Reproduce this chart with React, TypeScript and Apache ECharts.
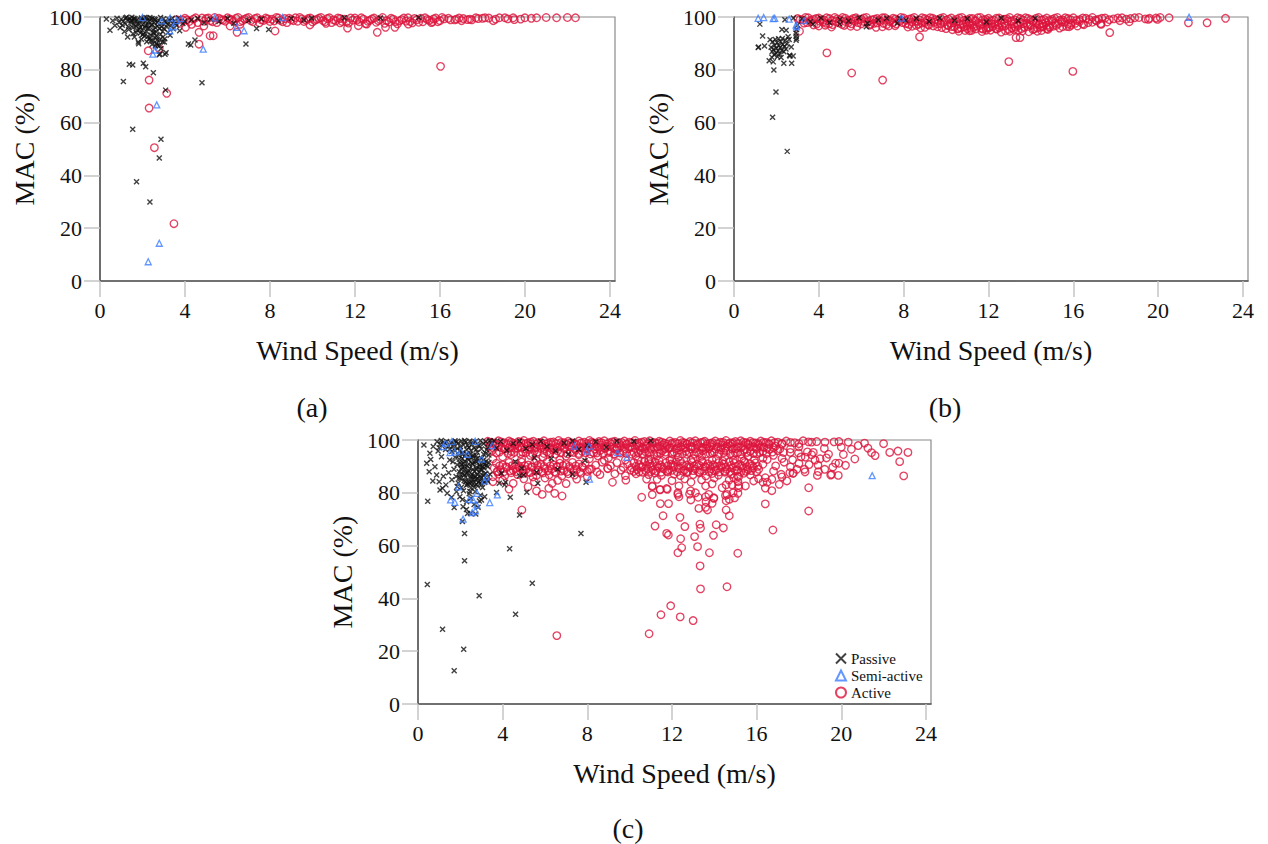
import React, { useEffect, useRef } from "react";
import * as echarts from "echarts";

const xTicks = [0, 4, 8, 12, 16, 20, 24];
const seriesNames = ["Passive", "Semi-active", "Active"];
const panelLabels = ["(a)", "(b)", "(c)"];
const xTitle = "Wind Speed (m/s)";
const yTitle = "MAC (%)";

// ---------- Panel (a) ----------
const passiveA: number[][] = [
  [0.3,99.2],[0.47,95.0],[0.6,98.6],[0.7,96.8],[0.8,99.5],[0.9,97.9],[0.95,95.9],[1.0,99.1],[1.1,75.6],[1.1,98.4],[1.15,94.5],[1.2,99.6],[1.2,97.3],
  [1.3,98.9],[1.3,92.4],[1.35,96.2],[1.38,82.1],[1.4,99.3],[1.45,97.8],[1.5,98.7],[1.5,99.9],[1.54,81.8],[1.54,57.5],[1.55,95.9],[1.6,99.5],
  [1.6,97.1],[1.62,92.4],[1.65,98.3],[1.7,96.6],[1.7,94.1],[1.72,37.6],[1.75,99.0],[1.8,97.6],[1.8,90.5],[1.82,89.9],[1.85,95.3],[1.9,98.8],
  [1.9,93.9],[1.9,96.0],[1.95,99.6],[1.95,91.6],[2.0,97.2],[2.0,95.0],[2.04,82.5],[2.05,99.1],[2.05,93.6],[2.1,92.8],[2.1,96.3],[2.1,99.8],
  [2.15,81.2],[2.15,98.4],[2.2,94.4],[2.2,99.7],[2.25,97.0],[2.25,95.6],[2.3,91.6],[2.3,95.8],[2.35,29.9],[2.35,98.9],[2.35,92.0],[2.35,99.8],
  [2.4,93.2],[2.4,96.9],[2.45,99.4],[2.45,89.6],[2.5,90.9],[2.5,95.1],[2.51,78.9],[2.55,97.8],[2.55,93.9],[2.6,92.1],[2.6,99.0],[2.6,96.0],
  [2.65,94.3],[2.67,90.0],[2.7,96.5],[2.7,91.4],[2.71,89.3],[2.75,98.6],[2.79,46.6],[2.79,85.7],[2.8,89.2],[2.82,86.0],[2.85,93.5],[2.85,99.8],
  [2.87,53.7],[2.87,88.0],[2.9,97.4],[2.95,90.6],[2.95,94.5],[3.0,95.6],[3.0,99.3],[3.03,90.5],[3.05,91.8],[3.06,85.9],[3.09,72.3],[3.1,97.9],
  [3.11,86.5],[3.15,96.2],[3.2,94.1],[3.25,99.0],[3.3,93.1],[3.35,96.9],[3.45,95.5],[3.5,98.4],[3.6,96.8],[3.7,99.6],[3.75,94.8],[3.9,97.5],
  [4.0,98.4],[4.16,89.8],[4.27,89.4],[4.3,98.9],[4.47,91.3],[4.6,99.4],[4.8,75.1],[4.9,97.8],[5.2,99.1],[5.6,98.3],[6.0,99.5],[6.3,97.6],
  [6.87,89.8],[7.0,98.7],[7.37,95.6],[7.6,99.2],[7.94,95.3],[8.4,98.6],[9.0,99.4],[9.6,98.9],[9.96,99.5],[11.5,99.7],[13.2,99.6],[15.0,99.8],
  [1.25,99.9],[1.45,98.6],[1.65,99.2],[1.85,97.3],[2.0,98.9],[2.15,96.9],[2.3,98.3],[2.45,97.1],[2.55,99.2],[2.7,97.9],[2.8,95.6],[2.9,96.3],
  [3.05,98.2],[3.2,97.3],[3.4,99.5],[1.75,95.1],[2.0,93.3],[2.25,92.6],[2.5,94.0],[2.65,92.8],[2.8,91.4],[2.2,90.6],[2.4,91.1],[2.6,89.0],
  [2.95,92.3],[1.55,93.7],[1.35,95.3],[1.05,96.9],[3.3,98.6],[3.55,97.5]
];
const semiA: number[][] = [
  [2.27,7.3],[2.79,14.3],[2.67,66.7],[2.49,85.9],[2.6,87.5],[4.86,87.8],[3.29,94.8],[3.45,96.3],[3.6,98.6],[3.8,99.4],
  [6.43,96.1],[6.78,94.8],[2.0,99.8],[2.9,98.5],[3.3,99.6],[5.4,99.7],[8.6,99.8]
];
const activeA: number[][] = [
  [3.48,21.7],[2.56,50.5],[2.31,65.5],[2.31,76.1],[3.14,71.1],[2.27,87.2],[2.79,88.0],[4.66,89.7],[5.18,92.9],[5.33,92.9],[6.45,94.2],
  [8.24,94.7],[4.03,96.1],[4.31,97.2],[4.66,94.2],[4.89,96.6],[6.12,96.6],[6.59,97.2],[9.88,97.0],[16.03,81.3],[10.64,97.6],[11.3,97.8],
  [11.65,95.8],[12.16,96.7],[12.55,97.3],[13.05,94.2],[13.44,96.1],[13.88,96.1],[14.51,97.3],[15.65,98.2],[16.78,99.2],[17.02,98.6],
  [17.41,99.2],[17.69,99.7],[18.12,99.7],[18.51,98.6],[18.62,99.2],[19.06,99.7],[19.45,99.7],[20.0,99.7],[20.55,99.7],[21.49,99.7],[22.38,99.7],
  [3.6,99.0],[3.8,97.6],[4.0,99.5],[4.2,98.3],[4.4,99.2],[4.6,97.9],[4.8,99.6],[3.9,98.8],
  [5.0,99.4],[5.2,98.6],[5.4,99.8],[5.5,97.9],[5.7,99.1],[5.9,98.4],[6.0,99.7],[6.2,98.9],[6.4,99.5],[6.6,98.2],[6.8,99.2],[7.0,99.8],
  [7.1,98.6],[7.3,99.4],[7.5,97.8],[7.6,98.9],[7.8,99.6],[8.0,98.3],[8.1,99.2],[8.3,99.8],[8.5,98.7],[8.7,99.4],[8.8,97.9],[9.0,99.0],
  [9.2,99.7],[9.3,98.4],[9.5,99.3],[9.7,98.8],[9.9,99.6],[10.0,98.1],[10.2,99.1],[10.4,99.8],[10.5,98.6],[10.7,99.4],[10.9,97.9],[11.0,98.9],
  [11.2,99.6],[11.4,98.3],[11.5,99.2],[11.7,97.7],[11.9,98.8],[12.0,99.6],[12.2,98.2],[12.4,99.2],[12.5,97.5],[12.7,98.7],[12.9,99.6],[13.0,98.0],
  [13.2,99.0],[13.4,97.6],[13.5,98.6],[13.7,99.5],[13.9,98.2],[14.0,97.4],[14.2,99.0],[14.4,98.4],[14.5,99.7],[14.7,97.8],[14.9,98.9],[15.1,99.5],
  [15.2,98.2],[15.4,99.1],[15.6,97.9],[15.8,99.6],[16.0,98.6],[16.2,99.3],[16.5,98.9],[16.9,99.6],[17.3,99.0],[17.8,99.4],[18.3,99.6],[19.2,99.3],
  [19.8,99.2],[20.3,99.5],[21.0,99.8],[22.0,99.8],
  [4.1,98.9],[4.5,99.7],[4.9,98.4],[5.1,99.6],[5.3,98.2],[5.6,99.5],[5.8,98.8],[6.1,99.3],[6.3,98.3],[6.5,99.8],[6.7,98.6],[6.9,99.5],
  [7.2,98.2],[7.4,99.7],[7.7,98.7],[7.9,99.3],[8.2,98.5],[8.4,99.6],[8.6,98.2],[8.9,99.5],[9.1,98.6],[9.4,99.8],[9.6,98.3],[9.8,99.4],
  [10.1,98.7],[10.3,99.5],[10.6,98.2],[10.8,99.7],[11.1,98.5],[11.3,99.4],[11.6,98.1],[11.8,99.6],[12.1,98.8],[12.3,99.7],[12.6,98.4],[12.8,99.3],
  [13.1,98.6],[13.3,99.8],[13.6,98.1],[13.8,99.2],[14.1,98.5],[14.3,99.6],[14.6,98.3],[14.8,99.4],[15.0,98.0],[15.3,99.7],[15.5,98.7],[15.7,99.3],
  [15.9,98.2],[16.1,99.8],[16.4,99.5],[16.7,98.9],[17.1,99.4],[17.5,98.9],[18.0,99.5],[18.8,99.7],[19.5,99.0]
];

// ---------- Panel (b) ----------
const passiveB: number[][] = [
  [1.14,88.4],[1.44,89.0],[1.35,92.8],[1.22,97.3],[1.16,88.6],[1.66,83.4],[1.85,83.0],[1.88,79.9],[1.98,71.6],[1.82,62.0],[2.51,49.1],
  [2.35,82.5],[2.72,82.5],[2.64,85.2],[2.79,85.2],[2.62,85.5],[2.95,91.9],[2.92,93.8],[2.95,95.3],[2.26,95.3],[2.46,95.0],[2.93,92.8],[2.93,91.2],
  [1.75,88.5],[1.8,86.9],[1.82,90.6],[1.86,87.7],[1.9,85.6],[1.92,89.3],[1.95,91.5],[1.98,86.4],[2.0,88.2],[2.03,90.2],[2.05,84.9],[2.08,87.1],
  [2.1,91.8],[2.12,89.1],[2.15,86.0],[2.18,88.4],[2.2,90.6],[2.22,84.7],[2.25,87.3],[2.28,91.9],[2.3,89.6],[2.35,86.8],[2.38,88.9],[2.42,91.2],
  [2.45,87.9],[2.5,89.8],[1.7,91.4],[1.78,84.8],[2.6,91.5],[2.7,88.6],[2.55,92.5],
  [3.2,99.3],[3.6,98.2],[3.73,97.3],[4.1,99.6],[4.5,97.9],[4.99,97.3],[5.0,99.1],[5.4,98.5],[5.9,99.7],[6.24,96.3],[6.3,97.6],[6.8,98.9],
  [7.2,99.5],[7.7,97.7],[7.81,99.5],[8.1,98.8],[8.6,99.4],[9.2,98.3],[9.7,99.6],[10.4,98.7],[11.0,99.3],[11.9,98.1],[12.6,99.6],[13.4,98.6],
  [14.2,99.5],[2.8,99.6],[2.4,99.0],[3.0,97.0]
];
const semiB: number[][] = [
  [1.14,99.5],[1.92,99.5],[1.85,99.4],[2.93,96.9],[2.95,96.3],[21.46,99.9],[2.6,99.2],[3.3,98.6],[7.9,99.6],[1.4,99.8]
];
const activeB: number[][] = [
  [4.38,86.4],[5.55,78.8],[7.01,76.1],[8.75,92.5],[3.09,94.6],[12.96,83.1],[15.98,79.4],[13.3,92.2],[13.49,92.2],[17.72,94.1],[17.31,97.2],
  [18.64,98.2],[21.43,97.8],[22.31,97.8],[23.18,99.5],[20.52,99.7],[19.54,99.1],[19.97,99.1],[15.81,96.3],[16.44,97.4],[14.53,96.3],
  [14.87,96.1],[11.11,94.8],[10.56,95.7],[11.66,95.7],
  [3.0,99.4],[3.25,98.9],[3.5,99.7],[3.75,99.1],[4.0,99.6],[4.25,98.8],[4.5,99.4],[4.75,99.8],[5.0,99.0],[5.25,99.5],[5.5,98.9],[5.75,99.7],
  [6.0,99.2],[6.25,99.8],[6.5,98.9],[6.75,99.4],[7.0,99.7],[7.25,99.0],[7.5,99.5],[7.75,98.8],[8.0,99.6],[8.25,99.2],[8.5,99.8],[8.75,98.9],
  [9.0,99.4],[9.25,99.7],[9.5,99.0],[9.75,99.5],[10.0,98.8],[10.25,99.6],[10.5,99.1],[10.75,99.8],[11.0,98.9],[11.25,99.4],[11.5,99.7],
  [11.75,99.0],[12.0,99.5],[12.25,98.8],[12.5,99.6],[12.75,99.2],[13.0,99.8],[13.25,98.9],[13.5,99.4],[13.75,99.7],[14.0,99.0],[14.25,99.5],
  [14.5,98.9],[14.75,99.6],[15.0,99.1],[15.25,99.8],[15.5,98.9],[15.75,99.4],[16.0,99.7],[16.3,99.0],[16.6,99.5],[16.9,99.8],[17.2,99.2],
  [17.5,99.6],[17.9,99.3],[18.3,99.7],[18.7,99.4],[19.1,99.8],[19.6,99.5],[20.1,99.8],
  [3.3,97.7],[3.6,98.2],[3.9,97.3],[4.2,98.0],[4.5,97.5],[4.8,98.3],[5.1,97.2],[5.4,97.9],[5.7,98.4],[6.0,97.4],[6.3,98.1],[6.6,97.6],
  [6.9,98.3],[7.2,97.1],[7.5,97.9],[7.8,98.4],[8.1,97.5],[8.4,98.0],[8.7,97.3],[9.0,97.9],[9.3,98.3],[9.6,97.4],[9.9,98.0],[10.2,97.6],
  [10.5,98.3],[10.8,97.2],[11.1,97.9],[11.4,98.4],[11.7,97.5],[12.0,98.1],[12.3,97.3],[12.6,97.9],[12.9,98.4],[13.2,97.4],[13.5,98.0],
  [13.8,97.6],[14.1,98.3],[14.4,97.2],[14.7,97.9],[15.0,98.4],[15.3,97.5],[15.6,98.0],[15.9,97.7],[16.3,98.3],[16.7,97.9],[17.1,98.5],
  [17.6,98.1],[18.2,98.6],
  [4.0,96.6],[4.6,96.2],[5.2,96.8],[5.8,96.4],[6.4,96.9],[7.0,96.3],[7.6,96.7],[8.2,96.2],[8.6,96.8],[9.0,96.1],[9.4,96.6],[9.8,96.0],
  [10.1,96.7],[10.4,96.2],[10.7,95.9],[11.0,96.6],[11.3,96.1],[11.6,96.8],[11.9,95.8],[12.2,96.4],[12.5,96.0],[12.8,96.7],[13.1,95.9],
  [13.4,96.5],[13.7,96.1],[14.0,96.8],[14.3,95.9],[14.6,96.5],[14.9,96.2],[15.2,96.8],[15.5,96.3],[15.9,96.9],
  [10.3,95.2],[10.9,94.9],[11.4,95.5],[11.9,95.0],[12.4,95.4],[12.8,94.8],[13.2,95.3],[13.6,94.7],[14.1,95.2],[14.5,94.9],[13.9,94.4],[12.6,94.3]
];
const activeBDense: number[][] = [
  [3.12,99.1],[3.37,99.8],[3.62,98.7],[3.87,99.4],[4.12,98.9],[4.37,99.7],[4.62,98.6],[4.87,99.3],[5.12,99.8],[5.37,98.7],[5.62,99.4],[5.87,98.9],
  [6.12,99.6],[6.37,98.5],[6.62,99.2],[6.87,98.8],[7.12,99.7],[7.37,98.6],[7.62,99.3],[7.87,99.8],[8.12,98.7],[8.37,99.4],[8.62,98.5],[8.87,99.7],
  [9.12,98.9],[9.37,99.5],[9.62,98.6],[9.87,99.8],[10.12,99.2],[10.37,98.5],[10.62,99.6],[10.87,98.8],[11.12,99.4],[11.37,98.6],[11.62,99.8],
  [11.87,99.1],[12.12,98.6],[12.37,99.5],[12.62,98.7],[12.87,99.3],[13.12,98.5],[13.37,99.7],[13.62,98.9],[13.87,99.4],[14.12,98.6],[14.37,99.8],
  [14.62,99.1],[14.87,98.6],[15.12,99.5],[15.37,98.8],[15.62,99.7],[15.87,99.0],[16.15,98.7],[16.45,99.6],[16.75,99.1],[17.05,98.8],[17.35,99.5],
  [17.7,99.0],[18.1,99.6],[18.5,99.2],[18.9,99.7],[19.4,99.3],[19.9,99.6],
  [3.45,97.9],[3.75,97.0],[4.05,98.4],[4.35,97.6],[4.65,97.1],[4.95,97.8],[5.25,98.3],[5.55,97.4],[5.85,97.9],[6.15,98.2],[6.45,97.3],[6.75,97.8],
  [7.05,97.6],[7.35,98.2],[7.65,97.4],[7.95,97.9],[8.25,97.2],[8.55,98.3],[8.85,97.7],[9.15,97.1],[9.45,98.0],[9.75,97.5],[10.05,97.0],[10.35,97.8],
  [10.65,97.3],[10.95,98.1],[11.25,97.0],[11.55,97.6],[11.85,98.2],[12.15,97.4],[12.45,97.0],[12.75,97.7],[13.05,98.3],[13.35,97.1],[13.65,97.5],
  [13.95,97.0],[14.25,97.8],[14.55,97.4],[14.85,96.9],[15.15,97.7],[15.45,98.2],[15.75,97.3],[16.1,97.6],[16.5,97.1],[16.9,98.0],[17.3,97.5],
  [8.4,96.5],[8.8,95.9],[9.2,96.9],[9.6,96.3],[10.0,95.6],[10.25,96.4],[10.55,95.5],[10.85,96.3],[11.15,95.7],[11.45,96.5],[11.75,95.4],[12.05,96.1],
  [12.35,95.6],[12.65,96.4],[12.95,95.3],[13.25,96.2],[13.55,95.6],[13.85,96.4],[14.15,95.5],[14.45,96.1],[14.75,95.6],[15.05,96.5],[15.35,95.8],
  [15.7,96.4],[5.5,96.5],[6.7,96.1],[7.3,96.6],[4.3,96.9],[16.2,96.6],
  [10.6,94.6],[11.2,94.9],[11.7,94.5],[12.1,95.0],[13.0,94.6],[13.4,95.0],[14.3,94.6],[14.8,95.3],[11.0,95.6],[12.0,96.0]
];

// ---------- Panel (c) ----------
const passiveC: number[][] = [
  [0.46,76.8],[0.44,45.3],[1.16,28.3],[1.71,12.6],[2.16,20.7],[2.2,54.3],[2.2,64.6],[2.89,41.0],[4.33,58.8],[4.61,34.0],[5.4,45.7],[7.7,64.6],
  [4.8,71.6],[4.36,78.3],[5.14,80.2],[2.1,69.1],[1.71,74.4],[2.34,72.2],[7.89,92.2],[7.94,84.0],[4.09,83.0],[3.84,83.6],[3.71,80.1],
  [0.28,98.1],[0.41,91.2],[0.53,88.0],[0.8,89.9],[0.88,86.7],[1.0,84.2],[1.04,81.1],[1.16,81.7],[1.32,83.0],[1.38,79.8],[1.59,78.3],[1.82,80.4],
  [1.98,78.5],[2.13,74.7],[2.29,73.7],[2.48,72.2],[2.73,72.0],[2.84,74.5],[3.0,77.3],[3.15,78.5],[1.11,93.7],[0.56,95.0],[0.72,97.5],[1.66,97.5],
  [0.6,92.6],[0.95,95.8],[1.25,90.1],[1.45,87.6],[1.5,92.4],[1.2,86.3],[0.7,84.5],[1.6,84.9],
  [0.9,99.3],[1.0,97.1],[1.1,99.8],[1.2,98.2],[1.3,96.4],[1.35,99.4],[1.45,97.7],[1.55,99.0],[1.6,95.6],[1.7,98.5],[1.75,99.7],[1.85,96.8],
  [1.9,98.9],[2.0,97.4],[2.05,99.5],[2.1,95.2],[2.15,98.1],[2.25,99.2],[2.3,96.3],[2.35,97.9],[2.45,99.6],[2.5,95.9],[2.55,98.4],[2.65,97.0],
  [2.7,99.3],[2.8,95.4],[2.85,98.0],[2.95,99.7],[3.0,96.6],[3.1,98.6],[3.2,99.4],[3.3,97.2],[3.45,98.9],[3.6,99.6],[3.1,94.6],[2.6,94.2],[2.2,93.8],
  [1.65,91.8],[1.7,88.9],[1.75,93.5],[1.8,86.2],[1.85,90.6],[1.9,83.7],[1.92,94.1],[1.95,88.0],[2.0,91.3],[2.02,85.4],[2.05,82.1],[2.08,89.6],
  [2.1,93.0],[2.12,87.1],[2.15,80.8],[2.18,84.6],[2.2,91.9],[2.22,88.8],[2.25,86.0],[2.28,82.9],[2.3,94.6],[2.32,90.2],[2.35,87.7],[2.38,84.1],
  [2.4,92.5],[2.42,79.6],[2.45,89.3],[2.48,85.5],[2.5,81.8],[2.52,93.3],[2.55,87.0],[2.58,90.8],[2.6,83.3],[2.62,86.4],[2.65,91.6],[2.68,88.2],
  [2.7,80.4],[2.72,84.9],[2.75,94.0],[2.78,89.7],[2.8,86.8],[2.82,82.6],[2.85,92.2],[2.88,87.9],[2.9,84.3],[2.92,90.1],[2.95,79.1],[2.98,85.8],
  [3.0,93.0],[3.02,88.6],[3.05,82.0],[3.08,91.2],[3.1,86.5],[3.12,89.4],[3.15,83.9],[3.2,87.4],[3.22,92.0],[3.25,85.1],[3.3,89.9],[3.35,94.3],
  [3.4,87.0],[2.1,77.5],[2.3,76.6],[2.5,77.9],[2.65,75.6],[2.9,76.9],[1.85,82.4],[2.0,86.9],[2.4,88.3],[2.6,85.0],[2.2,89.9],[2.75,91.9],
  [2.55,84.0],[2.95,88.8],[3.15,90.7],[2.35,83.2],[2.82,85.5],[2.05,90.7],[1.95,85.6],[3.05,84.6],
  [3.7,97.0],[3.9,99.4],[4.2,96.1],[4.5,98.7],[4.8,99.6],[5.1,96.8],[5.4,98.3],[5.8,99.5],[6.1,97.5],[6.5,95.9],[6.9,98.9],[7.3,99.6],
  [7.6,96.5],[8.0,98.0],[8.4,99.3],[8.9,97.3],[9.4,99.6],[5.5,93.3],[6.3,92.9],[7.1,94.6],[4.6,91.8],[4.9,89.3],[5.6,87.8],[6.6,88.9],
  [7.3,87.0],[10.2,99.5],[11.0,99.7],[3.94,87.4],[4.14,84.0],[4.8,86.5],[5.66,83.6],[5.0,86.7],
  [1.95,92.7],[2.05,88.9],[2.15,91.1],[2.25,84.3],[2.3,87.4],[2.4,90.9],[2.45,83.6],[2.5,86.3],[2.55,91.2],[2.6,88.8],[2.65,82.1],[2.7,86.1],
  [2.75,89.0],[2.8,93.1],[2.85,84.0],[2.9,90.6],[2.95,86.4],[3.0,83.1],[3.05,89.9],[3.1,92.4],[3.15,87.0],[3.25,90.4],[3.3,84.4],[3.35,91.5],
  [2.2,86.8],[2.35,92.9],[2.45,80.5],[2.6,93.6],[2.75,83.2],[3.2,94.9],[1.25,99.0],[1.5,96.6],[1.8,99.2],[2.0,96.0],[2.2,99.8],[2.4,97.2],
  [2.6,99.1],[2.75,96.4],[2.9,97.8],[3.25,96.3],[3.4,99.8],[1.05,98.4],[2.45,94.7],[2.1,94.5],[1.75,95.9]
];
const semiC: number[][] = [
  [2.13,70.0],[1.54,77.3],[1.74,76.4],[2.42,77.5],[2.6,77.3],[2.56,72.5],[2.71,73.2],[3.39,76.3],[3.75,79.2],[3.23,85.9],[2.79,79.8],
  [1.51,95.2],[2.78,75.4],[1.91,82.3],[3.15,84.5],[1.74,95.5],[2.02,95.8],[2.34,94.6],[7.39,97.7],[7.98,95.8],[8.1,85.2],[8.09,97.7],
  [9.43,95.2],[9.87,93.4],[21.46,86.5],[1.3,98.8],[1.6,99.4],[2.7,99.5],[3.5,97.9],[3.0,92.8],[1.2,97.5]
];
const activeC: number[][] = [
  [10.92,26.6],[11.48,33.8],[11.94,37.2],[12.39,33.0],[13.0,31.6],[13.35,43.6],[14.6,44.4],[13.33,52.3],[15.11,57.1],[13.77,57.3],[12.28,57.3],
  [12.46,59.2],[13.21,59.6],[12.41,62.6],[13.07,63.4],[13.96,63.9],[11.75,64.6],[11.83,64.0],[11.2,67.4],[12.61,67.2],[13.32,68.1],[13.35,66.6],
  [14.09,67.9],[14.43,66.7],[16.77,65.9],[18.46,73.1],[16.41,75.8],[18.46,81.9],[11.58,71.3],[12.38,70.7],[11.45,75.9],[11.84,75.9],[13.27,74.1],
  [13.59,74.5],[13.68,73.5],[14.56,73.5],[14.71,71.3],[10.57,78.3],[11.07,79.3],[11.07,82.3],[11.44,81.1],[11.78,81.3],[12.28,80.0],[12.33,78.5],
  [12.89,77.3],[12.83,79.5],[13.24,78.3],[13.59,78.5],[13.61,76.6],[13.98,77.9],[13.9,76.0],[14.53,79.0],[14.56,77.0],[14.71,77.5],[14.96,78.1],
  [15.12,79.8],[15.15,81.9],[15.12,84.2],[14.92,85.7],[15.15,86.1],[14.56,83.0],[14.84,83.0],[16.72,80.8],[16.41,81.8],[16.3,84.0],[16.5,84.0],
  [17.07,83.2],[17.57,87.6],[17.74,87.4],[17.9,88.9],[18.26,88.9],[18.48,90.7],[18.76,92.4],[18.92,88.0],[19.22,88.9],[19.5,86.7],[19.73,91.2],
  [19.89,91.2],[20.64,92.8],[20.48,96.5],[21.26,96.9],[21.43,95.2],[22.29,95.3],[22.68,95.8],[23.15,95.3],[22.76,91.8],[22.95,86.4],[20.33,99.2],
  [19.89,99.4],[19.66,99.3],[19.23,99.2],[18.84,99.4],[18.45,99.3],[17.27,95.3],[17.59,95.3],[17.98,95.1],[18.4,95.5],[18.68,95.3],[9.19,84.0],
  [9.82,84.8],[8.96,89.3],[9.59,88.6],[10.05,88.6],[3.54,92.9],[3.54,86.1],[3.75,87.9],[4.61,89.1],[4.93,89.1],[5.43,86.0],[5.3,87.6],
  [5.87,79.4],[6.46,79.8],[6.81,78.8],[6.18,81.7],[6.34,83.6],[4.91,73.5],[8.97,89.1],[8.46,87.9],[8.09,88.9],[6.56,25.9],[3.54,84.2],
  [11.07,82.6],[11.44,81.3],[11.75,81.6],[12.33,82.6],[12.28,79.4],[12.88,80.7],[13.11,80.0],[13.59,82.6],[13.74,79.4],[13.98,78.1],[14.37,81.9],
  [14.6,79.4],[14.89,80.0],[15.15,82.8],[15.47,82.6],[15.86,84.5],[16.09,85.4],[16.41,85.7],[16.72,85.1],[17.16,87.0],[17.43,84.5],[17.71,87.4],
  [18.29,87.9],[18.87,86.6],[19.54,87.0],[19.86,86.6],
  [3.3,99.5],[3.55,98.9],[3.8,99.7],[4.05,99.0],[4.3,99.6],[4.5,98.8],[4.75,99.4],[5.0,99.8],[5.2,98.9],[5.45,99.5],[5.7,99.1],[5.95,99.7],
  [6.15,98.7],[6.4,99.3],[6.65,99.8],[6.9,99.0],[7.1,99.5],[7.35,98.8],[7.6,99.6],[7.85,99.2],[8.1,99.8],[8.3,98.9],[8.55,99.4],[8.8,99.7],
  [9.05,99.0],[9.3,99.5],[9.5,98.8],[9.75,99.6],[10.0,99.2],[10.25,99.8],[10.45,98.9],[10.7,99.4],[10.95,99.7],[11.2,99.0],[11.4,99.5],
  [11.65,98.8],[11.9,99.6],[12.15,99.1],[12.4,99.8],[12.6,98.9],[12.85,99.4],[13.1,99.7],[13.35,99.0],[13.55,99.5],[13.8,98.8],[14.05,99.6],
  [14.3,99.2],[14.55,99.8],[14.75,98.9],[15.0,99.4],[15.25,99.7],[15.5,99.0],[15.7,99.5],[15.95,98.9],[16.2,99.6],[16.45,99.1],[16.7,99.7],
  [17.0,99.2],[17.4,99.6],[17.8,99.0],[18.2,99.7],
  [3.4,97.6],[3.7,98.2],[3.95,97.1],[4.2,98.0],[4.45,97.4],[4.65,98.3],[4.9,97.0],[5.15,97.9],[5.35,98.4],[5.6,97.3],[5.85,98.1],[6.05,97.6],
  [6.3,98.3],[6.55,97.2],[6.8,97.9],[7.0,98.4],[7.25,97.5],[7.5,98.0],[7.7,97.1],[7.95,97.8],[8.2,98.3],[8.45,97.4],[8.65,98.1],[8.9,97.6],
  [9.15,98.4],[9.4,97.2],[9.6,97.9],[9.85,98.3],[10.1,97.5],[10.35,98.0],[10.6,97.2],[10.8,97.8],[11.05,98.4],[11.3,97.4],[11.55,98.1],
  [11.75,97.6],[12.0,98.3],[12.25,97.1],[12.5,97.9],[12.7,98.4],[12.95,97.5],[13.2,98.0],[13.45,97.2],[13.65,97.8],[13.9,98.3],[14.15,97.4],
  [14.4,98.1],[14.6,97.6],[14.85,98.4],[15.1,97.3],[15.35,97.9],[15.6,98.2],[15.85,97.5],[16.1,98.0],[16.35,97.3],[16.6,98.3],[16.9,97.7],[17.2,98.4],
  [3.5,96.0],[3.85,95.4],[4.1,96.6],[4.4,95.7],[4.7,96.9],[4.95,95.3],[5.25,96.4],[5.5,95.8],[5.8,96.8],[6.1,95.5],[6.35,96.3],[6.6,95.9],
  [6.9,96.7],[7.2,95.4],[7.45,96.2],[7.75,95.7],[8.0,96.6],[8.3,95.2],[8.6,96.0],[8.85,96.8],[9.1,95.5],[9.4,96.3],[9.7,95.8],[9.95,96.7],
  [10.2,95.3],[10.5,96.1],[10.75,95.6],[11.0,96.5],[11.3,95.2],[11.55,96.0],[11.85,96.8],[12.1,95.4],[12.35,96.2],[12.65,95.7],[12.9,96.6],
  [13.2,95.3],[13.45,96.0],[13.75,96.7],[14.0,95.5],[14.3,96.3],[14.55,95.8],[14.85,96.6],[15.1,95.2],[15.4,96.1],[15.7,95.7],[16.0,96.5],
  [16.3,95.6],[16.6,96.4],[17.0,96.0],
  [4.0,93.6],[4.4,94.5],[4.9,92.8],[5.3,94.2],[5.9,93.4],[6.2,94.8],[6.7,92.6],[7.0,93.9],[7.6,94.4],[8.1,92.9],[8.5,94.0],[9.0,93.2],
  [9.3,94.6],[9.8,92.5],[10.3,93.8],[10.6,94.7],[11.0,92.8],[11.3,93.9],[11.7,94.5],[12.0,92.6],[12.3,93.5],[12.7,94.6],[13.0,92.9],[13.4,93.8],
  [13.8,94.8],[14.1,92.7],[14.5,93.6],[14.9,94.4],[15.3,92.9],[15.6,93.9],[16.0,94.7],[16.3,93.1],[16.8,94.2],[17.2,93.0],[17.7,92.5],[18.1,93.6],
  [18.6,94.4],[19.0,92.9],[19.4,94.6],[5.6,92.2],[8.8,92.3],[10.9,91.9],
  [3.7,91.2],[4.0,90.6],[4.3,91.5],[4.6,90.8],[4.9,91.6],[5.2,90.5],[5.5,91.3],[5.8,90.9],[6.1,91.7],[6.4,90.6],[6.7,91.2],[7.0,90.7],
  [7.3,91.5],[7.6,90.9],[7.9,91.3],
  [3.6,89.3],[3.9,88.7],[4.2,89.6],[4.5,88.5],[4.8,89.4],[5.1,88.8],[5.4,89.7],[5.7,88.6],[6.0,89.2],[6.3,88.9],[6.6,89.8],[6.9,88.4],
  [7.2,89.3],[7.5,88.8],[7.8,89.5],[8.2,89.0],
  [3.8,87.1],[4.1,86.5],[4.4,87.6],[4.7,86.9],[5.0,87.4],[5.6,86.6],[5.9,87.5],[6.2,86.8],[6.5,87.7],[6.8,86.4],[7.1,87.2],[7.4,86.7],[7.7,87.4],
  [4.0,84.8],[4.5,83.6],[5.0,85.3],[5.5,84.1],[6.0,85.6],[6.6,84.7],[7.0,83.5],[7.5,85.2],[8.0,86.1],[4.3,81.4],[5.2,82.3],[5.6,80.7],
  [8.4,90.5],[8.7,91.6],[9.1,90.2],[9.4,91.4],[9.7,89.6],[9.9,90.9],[8.6,86.9],[9.3,87.2],[9.8,86.5],
  [10.2,91.4],[10.45,90.7],[10.7,91.8],[10.95,91.0],[11.2,91.6],[11.45,90.6],[11.7,91.3],[11.95,90.9],[12.2,91.7],[12.45,91.1],[12.7,90.5],
  [12.95,91.5],[13.2,90.8],[13.45,91.6],[13.7,91.0],[13.95,90.6],[14.2,91.4],[14.45,90.9],[14.7,91.7],[14.95,91.2],[15.2,90.7],[15.45,91.5],
  [15.7,90.9],[15.95,91.3],[16.3,90.8],
  [10.1,89.5],[10.35,88.8],[10.6,89.7],[10.85,89.0],[11.1,88.6],[11.35,89.6],[11.6,89.1],[11.85,88.7],[12.1,89.8],[12.35,89.2],[12.6,88.6],
  [12.85,89.5],[13.1,89.0],[13.35,88.5],[13.6,89.7],[13.85,89.1],[14.1,88.7],[14.35,89.6],[14.6,88.9],[14.85,89.4],[15.1,88.6],[15.35,89.3],
  [15.6,88.8],[15.85,89.5],[16.1,88.9],
  [10.3,87.2],[10.6,87.8],[10.9,86.9],[11.2,87.5],[11.5,86.6],[11.8,87.9],[12.1,87.1],[12.4,86.5],[12.7,87.6],[13.0,86.9],[13.3,87.7],
  [13.6,86.4],[13.9,87.3],[14.2,86.7],[14.5,87.8],[14.8,87.0],[15.1,86.3],[15.4,87.4],[15.7,86.8],
  [11.3,85.1],[12.0,84.6],[12.6,85.3],[13.4,84.9],[14.0,85.6],[14.7,84.8],[12.9,84.0],[10.8,85.2],[13.9,83.4],
  [16.5,92.6],[16.9,90.2],[17.3,91.6],[17.6,89.8],[18.0,91.1],[18.3,93.5],[18.9,90.5],[19.3,93.2],[19.6,89.7],[20.1,94.5],[20.2,90.4],
  [20.8,97.9],[21.1,98.8],[22.0,98.6],[19.2,96.8],[18.0,97.4],[17.6,96.6],[20.0,97.3],[21.6,94.1],[16.8,88.2],[17.2,86.0]
];
const activeCDense: number[][] = [
  [3.42,99.1],[3.68,98.5],[3.92,99.3],[4.17,98.6],[4.4,99.2],[4.62,98.5],[4.87,99.1],[5.1,98.6],[5.32,99.2],[5.57,98.4],[5.82,99.0],[6.05,98.5],
  [6.27,99.2],[6.52,98.6],[6.77,99.1],[7.0,98.5],[7.22,99.0],[7.47,98.4],[7.72,98.9],[7.97,98.6],[8.2,99.2],[8.42,98.5],[8.67,99.0],[8.92,98.5],
  [9.17,99.3],[9.4,98.6],[9.62,99.1],[9.87,98.5],[10.12,99.0],[10.35,98.6],[10.57,99.2],[10.82,98.5],[11.07,99.0],[11.3,98.6],[11.52,99.2],
  [11.77,98.4],[12.02,98.9],[12.27,98.6],[12.5,99.1],[12.72,98.5],[12.97,99.0],[13.22,98.6],[13.45,99.2],[13.67,98.5],[13.92,99.0],[14.17,98.6],
  [14.42,99.1],[14.65,98.5],[14.87,99.0],[15.12,98.6],[15.37,99.2],[15.6,98.5],[15.82,99.0],[16.07,98.6],[16.32,99.1],[16.57,98.6],[16.85,99.0],
  [17.2,98.7],[17.6,99.1],[18.0,98.6],[18.6,99.2],
  [3.55,96.9],[3.82,97.4],[4.07,96.6],[4.32,97.2],[4.57,96.8],[4.8,97.5],[5.05,96.6],[5.3,97.2],[5.52,96.9],[5.75,97.6],[5.97,96.7],[6.22,97.1],
  [6.45,96.6],[6.7,97.4],[6.95,96.9],[7.15,97.5],[7.4,96.7],[7.62,97.2],[7.87,96.8],[8.1,97.5],[8.35,96.6],[8.57,97.2],[8.8,96.9],[9.05,97.5],
  [9.27,96.7],[9.52,97.1],[9.77,96.6],[10.02,97.4],[10.25,96.8],[10.47,97.5],[10.72,96.6],[10.95,97.2],[11.17,96.9],[11.42,97.6],[11.67,96.7],
  [11.92,97.1],[12.17,96.6],[12.42,97.4],[12.62,96.9],[12.87,97.5],[13.1,96.7],[13.35,97.2],[13.6,96.8],[13.82,97.5],[14.07,96.6],[14.32,97.1],
  [14.52,96.9],[14.77,97.6],[15.0,96.7],[15.25,97.2],[15.47,96.6],[15.72,97.4],[15.97,96.9],[16.22,97.3],[16.5,96.8],[16.8,97.2],[17.1,96.6],
  [3.7,95.1],[4.25,94.9],[4.55,95.3],[4.85,94.7],[5.1,95.2],[5.4,94.8],[5.65,95.4],[5.95,94.9],[6.25,95.2],[6.5,94.6],[6.75,95.1],[7.05,94.8],
  [7.35,95.3],[7.6,94.9],[7.9,95.2],[8.15,94.7],[8.45,95.1],[8.75,94.8],[9.0,95.3],[9.25,94.6],[9.55,95.1],[9.85,94.9],[10.1,94.6],[10.4,95.3],
  [10.65,94.8],[10.9,95.2],[11.15,94.6],[11.45,95.0],[11.7,95.4],[12.0,94.7],[12.25,95.1],[12.5,94.8],[12.8,95.3],[13.05,94.6],[13.3,95.0],
  [13.6,94.7],[13.9,95.2],[14.2,94.8],[14.45,95.2],[14.75,94.7],[15.0,95.1],[15.25,94.6],[15.55,95.3],[15.85,94.9],[16.15,95.2],[16.45,94.8],[16.75,95.4],
  [10.3,90.1],[10.55,89.9],[10.8,90.4],[11.05,90.0],[11.3,90.3],[11.55,89.8],[11.8,90.2],[12.05,90.5],[12.3,90.0],[12.55,90.3],[12.8,89.9],
  [13.05,90.2],[13.3,90.4],[13.55,89.9],[13.8,90.3],[14.05,90.0],[14.3,90.2],[14.55,89.8],[14.8,90.4],[15.05,90.0],[15.3,90.2],[15.55,89.9],
  [15.8,90.3],[16.05,90.0],
  [10.2,88.1],[10.45,87.9],[10.75,88.4],[11.0,88.0],[11.25,88.3],[11.5,87.8],[11.75,88.2],[12.0,88.5],[12.25,87.9],[12.5,88.2],[12.75,88.0],
  [13.0,88.4],[13.25,87.8],[13.5,88.2],[13.75,88.0],[14.0,88.4],[14.25,87.9],[14.5,88.2],[14.75,88.0],[15.0,88.3],[15.25,87.8],[15.5,88.1],
  [15.75,88.4],[16.0,87.9],
  [10.4,92.3],[10.9,92.6],[11.4,92.1],[11.9,92.4],[12.4,92.0],[12.9,92.3],[13.4,92.1],[13.9,92.4],[14.4,92.0],[14.9,92.3],[15.4,92.1],[15.9,92.5],
  [3.85,90.2],[4.15,89.9],[4.45,90.3],[4.75,90.0],[5.05,90.2],[5.35,89.8],[5.65,90.4],[5.95,90.0],[6.25,90.2],[6.55,89.9],[6.85,90.3],[7.15,90.0],
  [7.45,90.2],[7.75,89.9],[3.75,88.2],[4.05,87.9],[4.35,88.3],[4.65,88.0],[4.95,88.3],[5.25,87.8],[5.55,88.2],[5.85,88.0],[6.15,88.4],[6.45,87.9],
  [6.75,88.2],[7.05,88.0],[7.35,88.3],[7.65,87.9],[8.0,88.1]
];

const panels = [
  { passive: passiveA, semi: semiA, active: activeA },
  { passive: passiveB, semi: semiB, active: activeB.concat(activeBDense) },
  { passive: passiveC, semi: semiC, active: activeC.concat(activeCDense) },
];

const FONT = "'Liberation Serif', 'Times New Roman', Times, serif";
const RED = "#dc143c";
const BLUE = "#3c7dff";
const CROSS = "path://M0 0L10 10M10 0L0 10";

export default function App() {
  const ref = useRef<HTMLDivElement>(null);
  useEffect(() => {
    if (!ref.current) return;
    const chart = echarts.init(ref.current, null, { renderer: "svg" });
    const grids = [
      { left: 100, top: 17, width: 515, height: 264 },
      { left: 734, top: 17, width: 514, height: 264 },
      { left: 418, top: 440, width: 513, height: 264 },
    ];
    const captionPos = [
      [312, 407],
      [945, 407],
      [628, 828],
    ];
    const xAxes = grids.map((_, i) => ({
      type: "value",
      gridIndex: i,
      min: 0,
      max: 24.24,
      axisLine: { show: true, onZero: false, lineStyle: { color: "#555", width: 1.5 } },
      axisTick: { show: true, length: 16, lineStyle: { color: "#c4c4c4", width: 1.5 }, customValues: xTicks },
      axisLabel: { customValues: xTicks, margin: 18, fontSize: 22, color: "#111", fontFamily: FONT },
      splitLine: { show: false },
      name: xTitle,
      nameLocation: "middle",
      nameGap: 55,
      nameTextStyle: { fontSize: 28, color: "#111", fontFamily: FONT },
    }));
    const yAxes = grids.map((_, i) => ({
      type: "value",
      gridIndex: i,
      min: 0,
      max: 100,
      interval: 20,
      axisLine: { show: true, onZero: false, lineStyle: { color: "#555", width: 1.5 } },
      axisTick: { show: true, length: 16, lineStyle: { color: "#c4c4c4", width: 1.5 } },
      axisLabel: { margin: 18, fontSize: 22, color: "#111", fontFamily: FONT },
      splitLine: { show: false },
      name: yTitle,
      nameLocation: "middle",
      nameGap: 62,
      nameTextStyle: { fontSize: 28, color: "#111", fontFamily: FONT },
    }));
    const series: any[] = [];
    panels.forEach((p, i) => {
      series.push({
        type: "scatter",
        name: seriesNames[2],
        xAxisIndex: i,
        yAxisIndex: i,
        data: p.active,
        symbol: "circle",
        symbolSize: 7.5,
        itemStyle: { color: "rgba(255,255,255,0)", borderColor: RED, borderWidth: 1.35 },
        emphasis: { disabled: true },
      });
      series.push({
        type: "scatter",
        name: seriesNames[0],
        xAxisIndex: i,
        yAxisIndex: i,
        data: p.passive,
        symbol: CROSS,
        symbolSize: 5,
        itemStyle: { color: "rgba(0,0,0,0)", borderColor: "#111", borderWidth: 1.4 },
        emphasis: { disabled: true },
      });
      series.push({
        type: "scatter",
        name: seriesNames[1],
        xAxisIndex: i,
        yAxisIndex: i,
        data: p.semi,
        symbol: "triangle",
        symbolSize: 6,
        itemStyle: { color: "rgba(255,255,255,0)", borderColor: BLUE, borderWidth: 1.3 },
        emphasis: { disabled: true },
      });
    });
    chart.setOption({
      animation: false,
      backgroundColor: "#fff",
      textStyle: { fontFamily: FONT },
      grid: grids.map((g) => ({ ...g, show: true, borderColor: "#8a8a8a", borderWidth: 1.2, containLabel: false })),
      xAxis: xAxes,
      yAxis: yAxes,
      legend: {
        data: seriesNames,
        orient: "vertical",
        left: 830,
        top: 646,
        itemWidth: 10,
        itemHeight: 10,
        itemGap: 2,
        selectedMode: false,
        textStyle: { fontSize: 15, color: "#111", fontFamily: FONT },
        itemStyle: { borderWidth: 2 },
      },
      graphic: panelLabels.map((t, i) => ({
        type: "text",
        x: captionPos[i][0],
        y: captionPos[i][1],
        style: {
          text: t,
          fontSize: 28,
          fontFamily: FONT,
          fill: "#111",
          align: "center",
          verticalAlign: "middle",
        },
      })),
      series,
    });
    return () => chart.dispose();
  }, []);
  return (
    <div
      ref={ref}
      style={{ position: "fixed", left: 0, top: 0, width: 1268, height: 844, background: "#fff" }}
    />
  );
}
